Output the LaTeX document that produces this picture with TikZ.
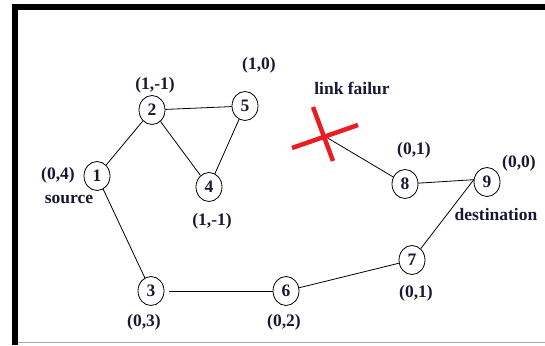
\documentclass[tikz,border=0pt]{standalone}
\usepackage{fontspec}
\setmainfont{Liberation Serif}
\usetikzlibrary{shapes.geometric}
\definecolor{ink}{RGB}{24,24,52}
\definecolor{failred}{RGB}{236,28,36}
\begin{document}
\begin{tikzpicture}[x=1pt,y=-1pt,
  vertex/.style={draw=black,ellipse,line width=0.8pt,minimum width=26pt,minimum height=29pt,inner sep=0pt,text=ink,font=\bfseries\fontsize{17.5}{18}\selectfont},
  tag/.style={text=ink,inner sep=0pt,font=\bfseries\fontsize{17.5}{18}\selectfont},
  link/.style={draw=black,line width=0.8pt},
  cross/.style={draw=failred,line width=4.5pt}]
\useasboundingbox (0,0) rectangle (545,345);
\fill[white] (0,0) rectangle (545,345);
% frame
\fill[black] (11.5,4) rectangle (545,10);
\fill[black] (11.5,4) rectangle (17.5,345);
\draw[gray!70,line width=1pt] (17.5,342) -- (545,342);
% vertices
\node[vertex] (n1) at (97,176) {1};
\node[vertex] (n2) at (152,110) {2};
\node[vertex] (n5) at (245,106) {5};
\node[vertex] (n4) at (209,187) {4};
\node[vertex] (n3) at (151,291) {3};
\node[vertex] (n6) at (286,291) {6};
\node[vertex] (n7) at (412,260) {7};
\node[vertex] (n8) at (405,184) {8};
\node[vertex] (n9) at (487,182) {9};
% labels
\node[tag] (l2) at (155,85) {(1,-1)};
\node[tag] (l5) at (259,65) {(1,0)};
\node[tag] (lf) at (352,88) {link failur};
\node[tag] (l1) at (58,175) {(0,4)};
\node[tag] (src) at (69,199) {source};
\node[tag] (l4) at (212,221) {(1,-1)};
\node[tag] (l8) at (414,150) {(0,1)};
\node[tag] (l9) at (519,163) {(0,0)};
\node[tag] (dst) at (496,215) {destination};
\node[tag] (l3) at (144,322) {(0,3)};
\node[tag] (l6) at (284,322) {(0,2)};
\node[tag] (l7) at (416,293) {(0,1)};
% failed link
\coordinate (fx) at (326,137);
\coordinate (xa) at (292,148);
\coordinate (xb) at (358,125);
\coordinate (xc) at (313,107);
\coordinate (xd) at (333,161);
% links
\draw[link] (n1) -- (n2);
\draw[link] (n2) -- (n5);
\draw[link] (n2) -- (n4);
\draw[link] (n4) -- (n5);
\draw[link] (n1) -- (n3);
\draw[link,shorten <=5pt] (n3) -- (n6);
\draw[link] (n6) -- (n7);
\draw[link] (n7) -- (n9.170);
\draw[link] (n8) -- (n9.170);
\draw[link] (fx) -- (n8);
\draw[cross] (xa) -- (xb);
\draw[cross] (xc) -- (xd);
\end{tikzpicture}
\end{document}
